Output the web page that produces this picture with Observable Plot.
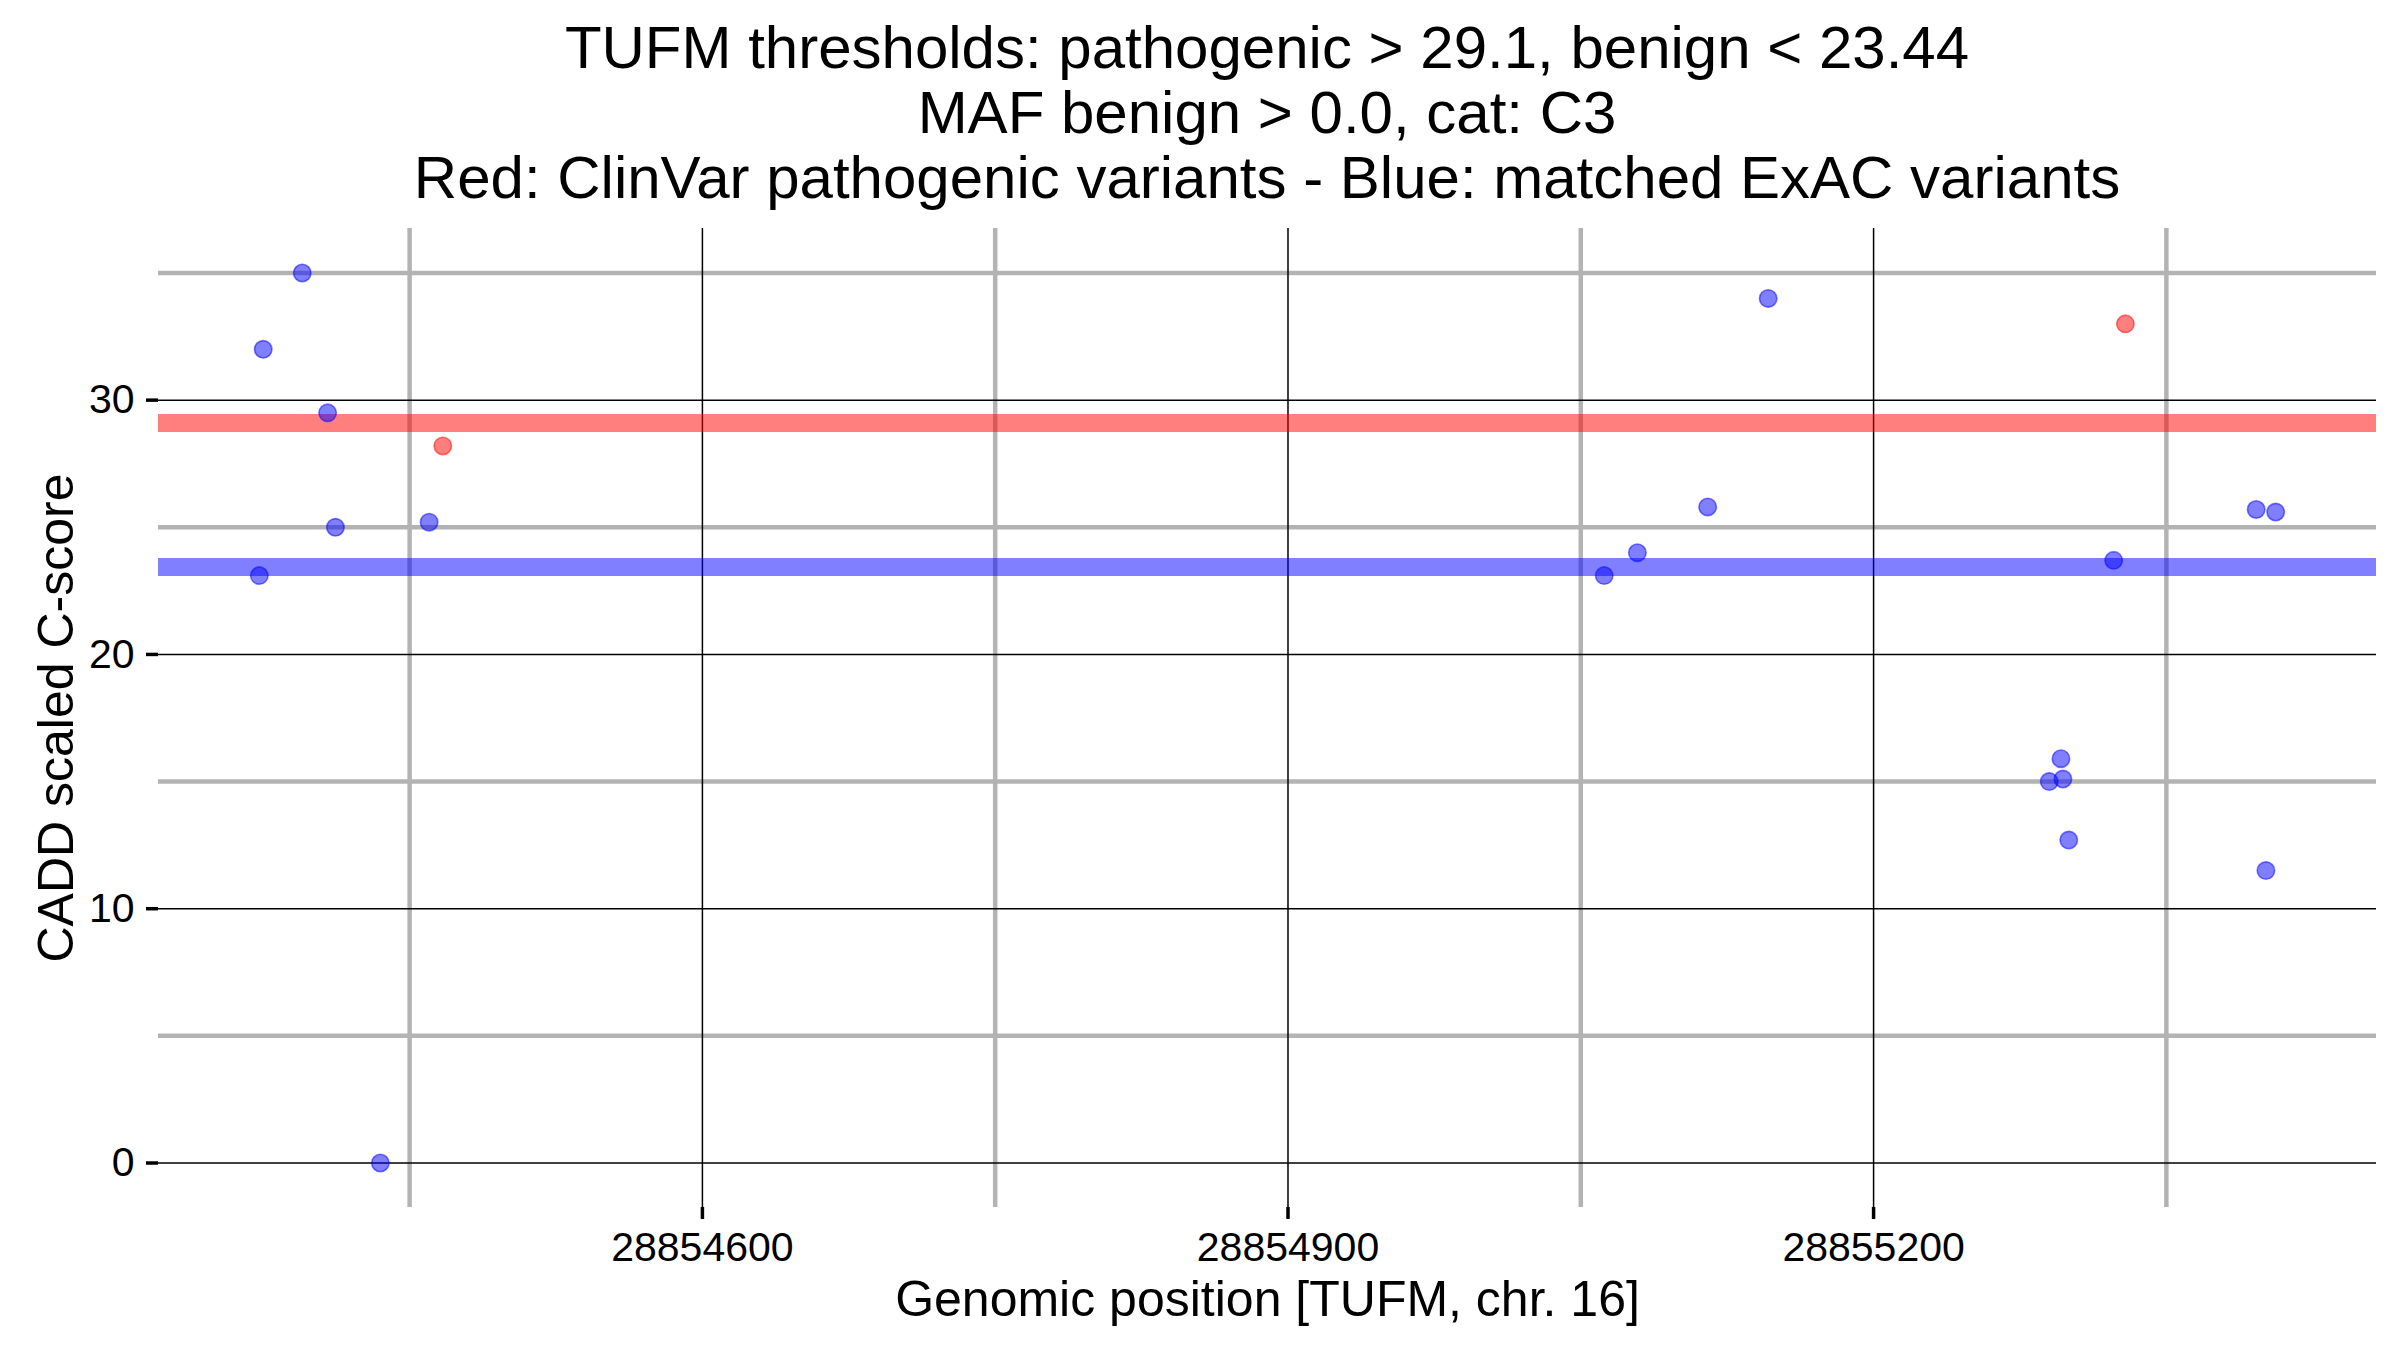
<!DOCTYPE html>
<html>
<head>
<meta charset="utf-8">
<script src="https://cdn.jsdelivr.net/npm/d3@7"></script>
<script src="https://cdn.jsdelivr.net/npm/@observablehq/plot@0.6"></script>
<style>
  html, body { margin: 0; padding: 0; background: #ffffff; }
  #title {
    box-sizing: border-box;
    width: 2400px;
    height: 210px;
    padding: 15px 24px 0 158px;
    text-align: center;
    font-family: "Liberation Sans", Arial, Helvetica, sans-serif;
    font-size: 60px;
    line-height: 65px;
    color: #000;
    white-space: nowrap;
  }
  #chart svg { display: block; }
</style>
</head>
<body>
<div id="title"></div>
<div id="chart"></div>
<script>
// ---- Text ----
const titleLines = [
  "TUFM thresholds: pathogenic > 29.1, benign < 23.44",
  "MAF benign > 0.0, cat: C3",
  "Red: ClinVar pathogenic variants - Blue: matched ExAC variants"
];
const xLabel = "Genomic position [TUFM, chr. 16]";
const yLabel = "CADD scaled C-score";

// ---- Thresholds ----
const pathogenicThreshold = 29.1;
const benignThreshold = 23.44;

// ---- Matched ExAC variants (blue) ----
const exacPos = [
  28854375, 28854395, 28854408, 28854412, 28854373, 28854435, 28854460,
  28855062, 28855079, 28855115, 28855146,
  28855290, 28855296, 28855297, 28855300, 28855323,
  28855396, 28855401, 28855406
];
const exacScore = [
  32.0, 35.0, 29.5, 25.0, 23.1, 0.0, 25.2,
  23.1, 24.0, 25.8, 34.0,
  15.0, 15.9, 15.1, 12.7, 23.7,
  25.7, 11.5, 25.6
];

// ---- ClinVar pathogenic variants (red) ----
const clinvarPos = [28854467, 28855329];
const clinvarScore = [28.2, 33.0];

// ---- Tick values ----
const xMajorTicks = [28854600, 28854900, 28855200];
const xMinorTicks = [28854450, 28854750, 28855050, 28855350];
const yMajorTicks = [0, 10, 20, 30];
const yMinorTicks = [5, 15, 25, 35];

// ---- Build tables ----
const exac = exacPos.map((p, i) => ({pos: p, score: exacScore[i]}));
const clinvar = clinvarPos.map((p, i) => ({pos: p, score: clinvarScore[i]}));

// ggplot-like 5% expansion of data range
function expand(vals) {
  const [lo, hi] = d3.extent(vals);
  const pad = (hi - lo) * 0.05;
  return [lo - pad, hi + pad];
}
const allPos = exacPos.concat(clinvarPos);
const allScore = exacScore.concat(clinvarScore, [pathogenicThreshold, benignThreshold]);
const xDomain = expand(allPos);
const yDomain = expand(allScore);

document.getElementById("title").innerHTML =
  titleLines.map(t => `<div>${t.replace(/&/g,"&amp;").replace(/</g,"&lt;").replace(/>/g,"&gt;")}</div>`).join("");

const FONT = "Liberation Sans, Arial, Helvetica, sans-serif";

const chart = Plot.plot({
  width: 2400,
  height: 1140,
  marginTop: 18,
  marginBottom: 143,
  marginLeft: 158,
  marginRight: 24,
  style: {fontFamily: FONT, background: "#ffffff", color: "#000000"},
  x: {domain: xDomain},
  y: {domain: yDomain},
  marks: [
    // minor grid (grey, thick)
    Plot.gridX(xMinorTicks, {stroke: "#b3b3b3", strokeOpacity: 1, strokeWidth: 4.5}),
    Plot.gridY(yMinorTicks, {stroke: "#b3b3b3", strokeOpacity: 1, strokeWidth: 4.5}),
    // major grid (black, thin)
    Plot.gridX(xMajorTicks, {stroke: "#000000", strokeOpacity: 1, strokeWidth: 1.5}),
    Plot.gridY(yMajorTicks, {stroke: "#000000", strokeOpacity: 1, strokeWidth: 1.5}),
    // threshold lines
    Plot.ruleY([pathogenicThreshold], {stroke: "#ff0000", strokeOpacity: 0.5, strokeWidth: 18}),
    Plot.ruleY([benignThreshold], {stroke: "#0000ff", strokeOpacity: 0.5, strokeWidth: 18}),
    // axes
    Plot.axisX(xMajorTicks, {
      tickSize: 12, tickPadding: 12, fontSize: 41, strokeWidth: 3.5,
      tickFormat: d => String(d), label: null
    }),
    Plot.axisY(yMajorTicks, {
      tickSize: 12, tickPadding: 12, fontSize: 41, strokeWidth: 3.5,
      tickFormat: d => String(d), label: null
    }),
    // points
    Plot.dot(exac, {
      x: "pos", y: "score", r: 8.7,
      fill: "#0000ff", fillOpacity: 0.5,
      stroke: "#0000ff", strokeOpacity: 0.5, strokeWidth: 1.6
    }),
    Plot.dot(clinvar, {
      x: "pos", y: "score", r: 8.7,
      fill: "#ff0000", fillOpacity: 0.5,
      stroke: "#ff0000", strokeOpacity: 0.5, strokeWidth: 1.6
    }),
    // axis titles
    Plot.text([xLabel], {
      frameAnchor: "bottom", lineAnchor: "bottom", dy: 108,
      fontSize: 50, fill: "#000000", fontFamily: FONT
    }),
    Plot.text([yLabel], {
      frameAnchor: "left", rotate: -90, textAnchor: "middle", lineAnchor: "middle", dx: -102,
      fontSize: 50, fill: "#000000", fontFamily: FONT
    })
  ]
});

document.getElementById("chart").appendChild(chart);
</script>
</body>
</html>
